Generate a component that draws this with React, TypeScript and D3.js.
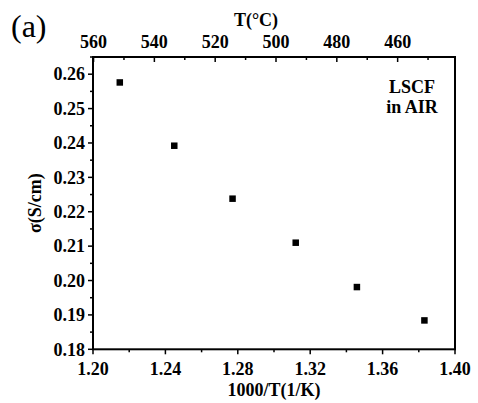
import React from "react";
import * as d3 from "d3";

const tempsC = [550, 530, 510, 490, 470, 450];
const invT = [1.2148, 1.2449, 1.2771, 1.312, 1.3458, 1.3831];
const sigma = [0.2576, 0.2392, 0.2238, 0.211, 0.1981, 0.1884];
const xTicks = [1.2, 1.24, 1.28, 1.32, 1.36, 1.4];
const yTicks = [0.18, 0.19, 0.2, 0.21, 0.22, 0.23, 0.24, 0.25, 0.26];
const topTicks = [560, 540, 520, 500, 480, 460];

const W = 478, H = 403;
const L = 93, R = 455, T = 57, B = 349.3;
const FONT = "'Liberation Serif', 'Times New Roman', serif";

export default function App() {
  const x = d3.scaleLinear().domain([1.2, 1.4]).range([L, R]);
  const y = d3.scaleLinear().domain([0.18, 0.265]).range([B, T]);
  const xt = d3.scaleLinear().domain([1000 / 1.2 - 273.15, 1000 / 1.4 - 273.15]).range([L, R]);

  const xMinor = d3.range(1.22, 1.4, 0.04);
  const yMinor = d3.range(0.185, 0.265, 0.01);
  const topMinor = d3.range(550, 440, -20);

  return (
    <svg width={W} height={H} style={{ position: "absolute", left: 0, top: 0, background: "#fff" }} fontFamily={FONT}>
      <g stroke="#000" strokeWidth={1.5}>
        {xTicks.map((v) => <line key={"xt" + v} x1={x(v)} x2={x(v)} y1={B} y2={B + 5} />)}
        {xMinor.map((v) => <line key={"xm" + v} x1={x(v)} x2={x(v)} y1={B} y2={B + 3} />)}
        {yTicks.map((v) => <line key={"yt" + v} x1={L} x2={L - 5} y1={y(v)} y2={y(v)} />)}
        {yMinor.map((v) => <line key={"ym" + v} x1={L} x2={L - 3} y1={y(v)} y2={y(v)} />)}
        {topTicks.map((v) => <line key={"tt" + v} x1={xt(v)} x2={xt(v)} y1={T} y2={T + 5} />)}
        {topMinor.map((v) => <line key={"tm" + v} x1={xt(v)} x2={xt(v)} y1={T} y2={T + 3} />)}
      </g>
      <rect x={L} y={T} width={R - L} height={B - T} fill="none" stroke="#000" strokeWidth={2} />
      <g fontSize={18} fontWeight="bold" fill="#000">
        {xTicks.map((v) => (
          <text key={"xl" + v} x={x(v)} y={375} textAnchor="middle">{v.toFixed(2)}</text>
        ))}
        {yTicks.map((v) => (
          <text key={"yl" + v} x={85} y={y(v)} dy="0.35em" textAnchor="end">{v.toFixed(2)}</text>
        ))}
        {topTicks.map((v) => (
          <text key={"tl" + v} x={xt(v)} y={47.5} textAnchor="middle">{v}</text>
        ))}
        <text x={(L + R) / 2} y={396} textAnchor="middle">1000/T(1/K)</text>
        <text x={256} y={26} textAnchor="middle">T(°C)</text>
        <text transform={`translate(41,${(T + B) / 2}) rotate(-90)`} textAnchor="middle">σ(S/cm)</text>
        <text x={412} y={92.5} textAnchor="middle">LSCF</text>
        <text x={412} y={113} textAnchor="middle">in AIR</text>
      </g>
      <text x={11} y={37} fontSize={32} fill="#000">(a)</text>
      <g fill="#000">
        {invT.map((v, i) => (
          <rect key={"p" + tempsC[i]} x={x(v) - 3.25} y={y(sigma[i]) - 3.25} width={6.5} height={6.5} />
        ))}
      </g>
    </svg>
  );
}
